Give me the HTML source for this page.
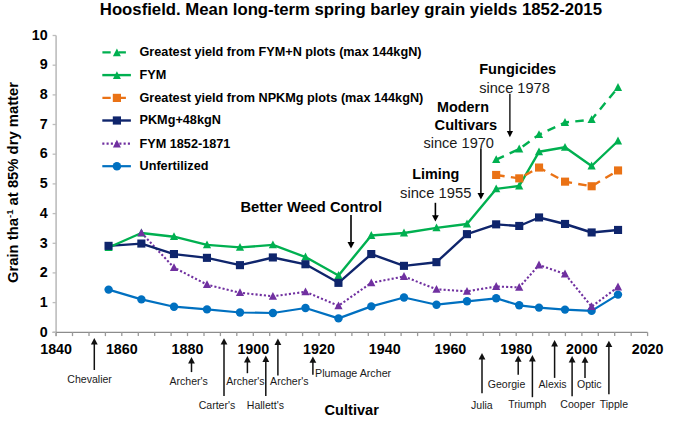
<!DOCTYPE html>
<html><head><meta charset="utf-8"><title>Hoosfield spring barley yields</title>
<style>
html,body{margin:0;padding:0;background:#fff;width:685px;height:421px;overflow:hidden;}
svg{display:block;font-family:"Liberation Sans",sans-serif;}
</style></head><body>
<svg xmlns="http://www.w3.org/2000/svg" width="685" height="421" viewBox="0 0 685 421">
<rect width="685" height="421" fill="#fff"/>
<g stroke="#9a9a9a" stroke-width="1.3" fill="none">
<line x1="56.1" y1="35.5" x2="56.1" y2="336.3" stroke="#bdbdbd" stroke-width="1.6"/>
<line x1="52.6" y1="332.3" x2="647.6" y2="332.3" stroke="#8c8c8c"/>
<line x1="56.1" y1="332.3" x2="56.1" y2="336.1"/>
<line x1="72.5" y1="332.3" x2="72.5" y2="336.1"/>
<line x1="89.0" y1="332.3" x2="89.0" y2="336.1"/>
<line x1="105.4" y1="332.3" x2="105.4" y2="336.1"/>
<line x1="121.8" y1="332.3" x2="121.8" y2="336.1"/>
<line x1="138.3" y1="332.3" x2="138.3" y2="336.1"/>
<line x1="154.7" y1="332.3" x2="154.7" y2="336.1"/>
<line x1="171.1" y1="332.3" x2="171.1" y2="336.1"/>
<line x1="187.5" y1="332.3" x2="187.5" y2="336.1"/>
<line x1="204.0" y1="332.3" x2="204.0" y2="336.1"/>
<line x1="220.4" y1="332.3" x2="220.4" y2="336.1"/>
<line x1="236.8" y1="332.3" x2="236.8" y2="336.1"/>
<line x1="253.3" y1="332.3" x2="253.3" y2="336.1"/>
<line x1="269.7" y1="332.3" x2="269.7" y2="336.1"/>
<line x1="286.1" y1="332.3" x2="286.1" y2="336.1"/>
<line x1="302.6" y1="332.3" x2="302.6" y2="336.1"/>
<line x1="319.0" y1="332.3" x2="319.0" y2="336.1"/>
<line x1="335.4" y1="332.3" x2="335.4" y2="336.1"/>
<line x1="351.9" y1="332.3" x2="351.9" y2="336.1"/>
<line x1="368.3" y1="332.3" x2="368.3" y2="336.1"/>
<line x1="384.7" y1="332.3" x2="384.7" y2="336.1"/>
<line x1="401.1" y1="332.3" x2="401.1" y2="336.1"/>
<line x1="417.6" y1="332.3" x2="417.6" y2="336.1"/>
<line x1="434.0" y1="332.3" x2="434.0" y2="336.1"/>
<line x1="450.4" y1="332.3" x2="450.4" y2="336.1"/>
<line x1="466.9" y1="332.3" x2="466.9" y2="336.1"/>
<line x1="483.3" y1="332.3" x2="483.3" y2="336.1"/>
<line x1="499.7" y1="332.3" x2="499.7" y2="336.1"/>
<line x1="516.2" y1="332.3" x2="516.2" y2="336.1"/>
<line x1="532.6" y1="332.3" x2="532.6" y2="336.1"/>
<line x1="549.0" y1="332.3" x2="549.0" y2="336.1"/>
<line x1="565.4" y1="332.3" x2="565.4" y2="336.1"/>
<line x1="581.9" y1="332.3" x2="581.9" y2="336.1"/>
<line x1="598.3" y1="332.3" x2="598.3" y2="336.1"/>
<line x1="614.7" y1="332.3" x2="614.7" y2="336.1"/>
<line x1="631.2" y1="332.3" x2="631.2" y2="336.1"/>
<line x1="647.6" y1="332.3" x2="647.6" y2="336.1"/>
<line x1="52.6" y1="332.3" x2="56.1" y2="332.3" stroke="#bdbdbd"/>
<line x1="52.6" y1="302.6" x2="56.1" y2="302.6" stroke="#bdbdbd"/>
<line x1="52.6" y1="272.9" x2="56.1" y2="272.9" stroke="#bdbdbd"/>
<line x1="52.6" y1="243.3" x2="56.1" y2="243.3" stroke="#bdbdbd"/>
<line x1="52.6" y1="213.6" x2="56.1" y2="213.6" stroke="#bdbdbd"/>
<line x1="52.6" y1="183.9" x2="56.1" y2="183.9" stroke="#bdbdbd"/>
<line x1="52.6" y1="154.2" x2="56.1" y2="154.2" stroke="#bdbdbd"/>
<line x1="52.6" y1="124.5" x2="56.1" y2="124.5" stroke="#bdbdbd"/>
<line x1="52.6" y1="94.9" x2="56.1" y2="94.9" stroke="#bdbdbd"/>
<line x1="52.6" y1="65.2" x2="56.1" y2="65.2" stroke="#bdbdbd"/>
<line x1="52.6" y1="35.5" x2="56.1" y2="35.5" stroke="#bdbdbd"/>
</g>
<g font-family="Liberation Sans" font-weight="bold" font-size="14.3" fill="#000">
<text x="47.6" y="336.5" text-anchor="end">0</text>
<text x="47.6" y="306.8" text-anchor="end">1</text>
<text x="47.6" y="277.1" text-anchor="end">2</text>
<text x="47.6" y="247.5" text-anchor="end">3</text>
<text x="47.6" y="217.8" text-anchor="end">4</text>
<text x="47.6" y="188.1" text-anchor="end">5</text>
<text x="47.6" y="158.4" text-anchor="end">6</text>
<text x="47.6" y="128.7" text-anchor="end">7</text>
<text x="47.6" y="99.1" text-anchor="end">8</text>
<text x="47.6" y="69.4" text-anchor="end">9</text>
<text x="47.6" y="39.7" text-anchor="end">10</text>
<text x="56.1" y="354" text-anchor="middle">1840</text>
<text x="121.8" y="354" text-anchor="middle">1860</text>
<text x="187.5" y="354" text-anchor="middle">1880</text>
<text x="253.3" y="354" text-anchor="middle">1900</text>
<text x="319.0" y="354" text-anchor="middle">1920</text>
<text x="384.7" y="354" text-anchor="middle">1940</text>
<text x="450.4" y="354" text-anchor="middle">1960</text>
<text x="516.2" y="354" text-anchor="middle">1980</text>
<text x="581.9" y="354" text-anchor="middle">2000</text>
<text x="647.6" y="354" text-anchor="middle">2020</text>
</g>
<polyline points="108.6,289.6 141.4,299.4 174.0,306.7 207.0,309.4 240.0,312.5 272.9,313.0 305.5,308.0 338.5,318.4 371.3,306.4 404.0,297.5 436.5,304.7 467.0,301.3 496.2,298.3 519.2,305.3 539.0,307.6 565.0,309.6 591.6,310.9 618.0,294.6" fill="none" stroke="#0070C0" stroke-width="2.2" stroke-linejoin="round" stroke-linecap="butt"/>
<polyline points="141.4,232.8 174.0,267.6 207.0,284.6 240.0,292.7 272.9,296.3 305.5,291.8 338.5,305.8 371.3,282.8 404.0,276.5 436.5,289.3 467.0,291.3 496.2,286.5 519.2,287.4 539.0,265.0 565.0,274.0 591.6,306.6 618.0,287.0" fill="none" stroke="#7030A0" stroke-width="2.1" stroke-dasharray="2.1 2.1" stroke-linejoin="round" stroke-linecap="butt"/>
<polyline points="108.6,245.9 141.4,243.6 174.0,254.1 207.0,257.9 240.0,265.2 272.9,257.5 305.5,264.3 338.5,282.8 371.3,254.1 404.0,265.9 436.5,262.2 467.0,234.2 496.2,224.4 519.2,226.0 539.0,217.5 565.0,224.0 591.6,232.5 618.0,230.0" fill="none" stroke="#0F256C" stroke-width="2.4" stroke-linejoin="round" stroke-linecap="butt"/>
<polyline points="108.6,247.5 141.4,233.0 174.0,236.7 207.0,244.9 240.0,247.4 272.9,244.9 305.5,257.0 338.5,275.5 371.3,235.5 404.0,233.0 436.5,227.9 467.0,224.0 496.2,188.9 519.2,186.0 539.0,151.8 565.0,147.3 591.6,166.0 618.0,141.0" fill="none" stroke="#00B050" stroke-width="2.4" stroke-linejoin="round" stroke-linecap="butt"/>
<polyline points="496.2,175.0 519.2,178.4 539.0,167.6 565.0,181.7 591.6,186.3 618.0,170.5" fill="none" stroke="#EA7215" stroke-width="2.4" stroke-dasharray="8.5 6.3" stroke-linejoin="round" stroke-linecap="butt"/>
<polyline points="496.2,159.6 519.2,149.0 539.0,134.7 565.0,122.5 591.6,119.6 618.0,87.5" fill="none" stroke="#00B050" stroke-width="2.4" stroke-dasharray="8.5 6.3" stroke-linejoin="round" stroke-linecap="butt"/>
<circle cx="108.6" cy="289.6" r="4.2" fill="#0070C0"/>
<circle cx="141.4" cy="299.4" r="4.2" fill="#0070C0"/>
<circle cx="174.0" cy="306.7" r="4.2" fill="#0070C0"/>
<circle cx="207.0" cy="309.4" r="4.2" fill="#0070C0"/>
<circle cx="240.0" cy="312.5" r="4.2" fill="#0070C0"/>
<circle cx="272.9" cy="313.0" r="4.2" fill="#0070C0"/>
<circle cx="305.5" cy="308.0" r="4.2" fill="#0070C0"/>
<circle cx="338.5" cy="318.4" r="4.2" fill="#0070C0"/>
<circle cx="371.3" cy="306.4" r="4.2" fill="#0070C0"/>
<circle cx="404.0" cy="297.5" r="4.2" fill="#0070C0"/>
<circle cx="436.5" cy="304.7" r="4.2" fill="#0070C0"/>
<circle cx="467.0" cy="301.3" r="4.2" fill="#0070C0"/>
<circle cx="496.2" cy="298.3" r="4.2" fill="#0070C0"/>
<circle cx="519.2" cy="305.3" r="4.2" fill="#0070C0"/>
<circle cx="539.0" cy="307.6" r="4.2" fill="#0070C0"/>
<circle cx="565.0" cy="309.6" r="4.2" fill="#0070C0"/>
<circle cx="591.6" cy="310.9" r="4.2" fill="#0070C0"/>
<circle cx="618.0" cy="294.6" r="4.2" fill="#0070C0"/>
<path d="M108.6 243.1L112.7 250.9L104.5 250.9Z" fill="#00B050"/>
<path d="M141.4 228.6L145.5 236.4L137.3 236.4Z" fill="#00B050"/>
<path d="M174.0 232.3L178.1 240.1L169.9 240.1Z" fill="#00B050"/>
<path d="M207.0 240.5L211.1 248.3L202.9 248.3Z" fill="#00B050"/>
<path d="M240.0 243.0L244.1 250.8L235.9 250.8Z" fill="#00B050"/>
<path d="M272.9 240.5L277.0 248.3L268.8 248.3Z" fill="#00B050"/>
<path d="M305.5 252.6L309.6 260.4L301.4 260.4Z" fill="#00B050"/>
<path d="M338.5 271.1L342.6 278.9L334.4 278.9Z" fill="#00B050"/>
<path d="M371.3 231.1L375.4 238.9L367.2 238.9Z" fill="#00B050"/>
<path d="M404.0 228.6L408.1 236.4L399.9 236.4Z" fill="#00B050"/>
<path d="M436.5 223.5L440.6 231.3L432.4 231.3Z" fill="#00B050"/>
<path d="M467.0 219.6L471.1 227.4L462.9 227.4Z" fill="#00B050"/>
<path d="M496.2 184.5L500.3 192.3L492.1 192.3Z" fill="#00B050"/>
<path d="M519.2 181.6L523.3 189.4L515.1 189.4Z" fill="#00B050"/>
<path d="M539.0 147.4L543.1 155.2L534.9 155.2Z" fill="#00B050"/>
<path d="M565.0 142.9L569.1 150.7L560.9 150.7Z" fill="#00B050"/>
<path d="M591.6 161.6L595.7 169.4L587.5 169.4Z" fill="#00B050"/>
<path d="M618.0 136.6L622.1 144.4L613.9 144.4Z" fill="#00B050"/>
<rect x="104.5" y="241.8" width="8.1" height="8.1" fill="#0F256C"/>
<rect x="137.3" y="239.5" width="8.1" height="8.1" fill="#0F256C"/>
<rect x="169.9" y="250.0" width="8.1" height="8.1" fill="#0F256C"/>
<rect x="202.9" y="253.8" width="8.1" height="8.1" fill="#0F256C"/>
<rect x="235.9" y="261.1" width="8.1" height="8.1" fill="#0F256C"/>
<rect x="268.8" y="253.4" width="8.1" height="8.1" fill="#0F256C"/>
<rect x="301.4" y="260.2" width="8.1" height="8.1" fill="#0F256C"/>
<rect x="334.4" y="278.8" width="8.1" height="8.1" fill="#0F256C"/>
<rect x="367.2" y="250.0" width="8.1" height="8.1" fill="#0F256C"/>
<rect x="399.9" y="261.8" width="8.1" height="8.1" fill="#0F256C"/>
<rect x="432.4" y="258.1" width="8.1" height="8.1" fill="#0F256C"/>
<rect x="462.9" y="230.1" width="8.1" height="8.1" fill="#0F256C"/>
<rect x="492.1" y="220.3" width="8.1" height="8.1" fill="#0F256C"/>
<rect x="515.2" y="221.9" width="8.1" height="8.1" fill="#0F256C"/>
<rect x="535.0" y="213.4" width="8.1" height="8.1" fill="#0F256C"/>
<rect x="561.0" y="219.9" width="8.1" height="8.1" fill="#0F256C"/>
<rect x="587.6" y="228.4" width="8.1" height="8.1" fill="#0F256C"/>
<rect x="614.0" y="225.9" width="8.1" height="8.1" fill="#0F256C"/>
<path d="M141.4 228.4L145.5 236.2L137.3 236.2Z" fill="#7030A0"/>
<path d="M174.0 263.2L178.1 271.0L169.9 271.0Z" fill="#7030A0"/>
<path d="M207.0 280.2L211.1 288.0L202.9 288.0Z" fill="#7030A0"/>
<path d="M240.0 288.3L244.1 296.1L235.9 296.1Z" fill="#7030A0"/>
<path d="M272.9 291.9L277.0 299.7L268.8 299.7Z" fill="#7030A0"/>
<path d="M305.5 287.4L309.6 295.2L301.4 295.2Z" fill="#7030A0"/>
<path d="M338.5 301.4L342.6 309.2L334.4 309.2Z" fill="#7030A0"/>
<path d="M371.3 278.4L375.4 286.2L367.2 286.2Z" fill="#7030A0"/>
<path d="M404.0 272.1L408.1 279.9L399.9 279.9Z" fill="#7030A0"/>
<path d="M436.5 284.9L440.6 292.7L432.4 292.7Z" fill="#7030A0"/>
<path d="M467.0 286.9L471.1 294.7L462.9 294.7Z" fill="#7030A0"/>
<path d="M496.2 282.1L500.3 289.9L492.1 289.9Z" fill="#7030A0"/>
<path d="M519.2 283.0L523.3 290.8L515.1 290.8Z" fill="#7030A0"/>
<path d="M539.0 260.6L543.1 268.4L534.9 268.4Z" fill="#7030A0"/>
<path d="M565.0 269.6L569.1 277.4L560.9 277.4Z" fill="#7030A0"/>
<path d="M591.6 302.2L595.7 310.0L587.5 310.0Z" fill="#7030A0"/>
<path d="M618.0 282.6L622.1 290.4L613.9 290.4Z" fill="#7030A0"/>
<rect x="492.1" y="170.9" width="8.1" height="8.1" fill="#EA7215"/>
<rect x="515.2" y="174.3" width="8.1" height="8.1" fill="#EA7215"/>
<rect x="535.0" y="163.5" width="8.1" height="8.1" fill="#EA7215"/>
<rect x="561.0" y="177.6" width="8.1" height="8.1" fill="#EA7215"/>
<rect x="587.6" y="182.2" width="8.1" height="8.1" fill="#EA7215"/>
<rect x="614.0" y="166.4" width="8.1" height="8.1" fill="#EA7215"/>
<path d="M496.2 155.2L500.3 163.0L492.1 163.0Z" fill="#00B050"/>
<path d="M519.2 144.6L523.3 152.4L515.1 152.4Z" fill="#00B050"/>
<path d="M539.0 130.3L543.1 138.1L534.9 138.1Z" fill="#00B050"/>
<path d="M565.0 118.1L569.1 125.9L560.9 125.9Z" fill="#00B050"/>
<path d="M591.6 115.2L595.7 123.0L587.5 123.0Z" fill="#00B050"/>
<path d="M618.0 83.1L622.1 90.9L613.9 90.9Z" fill="#00B050"/>
<path d="M102.4 52.4H110.7M118.5 52.4H125.9" stroke="#00B050" stroke-width="2.3"/>
<path d="M116.9 48.6L120.9 56.2L112.9 56.2Z" fill="#00B050"/>
<line x1="102.3" y1="75.1" x2="130.9" y2="75.1" stroke="#00B050" stroke-width="2.4"/>
<path d="M116.9 71.3L120.9 78.9L112.9 78.9Z" fill="#00B050"/>
<path d="M102.4 97.9H110.7M118.5 97.9H125.9" stroke="#EA7215" stroke-width="2.3"/>
<rect x="112.8" y="93.8" width="8.2" height="8.2" fill="#EA7215"/>
<line x1="102.3" y1="120.5" x2="130.9" y2="120.5" stroke="#0F256C" stroke-width="2.4"/>
<rect x="112.8" y="116.4" width="8.2" height="8.2" fill="#0F256C"/>
<line x1="102.3" y1="143.6" x2="130.9" y2="143.6" stroke="#7030A0" stroke-width="2.1" stroke-dasharray="2.1 2.16"/>
<path d="M116.9 139.8L120.9 147.4L112.9 147.4Z" fill="#7030A0"/>
<line x1="102.3" y1="166.2" x2="130.9" y2="166.2" stroke="#0070C0" stroke-width="2.2"/>
<circle cx="116.9" cy="166.2" r="4.3" fill="#0070C0"/>
<g font-family="Liberation Sans" font-weight="bold" font-size="12.68" fill="#000">
<text x="139.5" y="56.3">Greatest yield from FYM+N plots (max 144kgN)</text>
<text x="139.5" y="79.0">FYM</text>
<text x="139.5" y="101.8">Greatest yield from NPKMg plots (max 144kgN)</text>
<text x="139.5" y="124.4">PKMg+48kgN</text>
<text x="139.5" y="147.5">FYM 1852-1871</text>
<text x="139.5" y="170.1">Unfertilized</text>
</g>
<text x="99.8" y="14.7" font-family="Liberation Sans" font-weight="bold" font-size="16.74" fill="#000">Hoosfield. Mean long-term spring barley grain yields 1852-2015</text>
<text transform="translate(18.4,283.0) rotate(-90)" font-family="Liberation Sans" font-weight="bold" font-size="14.8" fill="#000">Grain tha<tspan font-size="9.6" dy="-5.5">-1</tspan><tspan dy="5.5"> at 85% dry matter</tspan></text>
<text x="351.7" y="415.2" text-anchor="middle" font-family="Liberation Sans" font-weight="bold" font-size="14.6" fill="#000">Cultivar</text>
<line x1="351.0" y1="215.0" x2="351.0" y2="243.0" stroke="#000" stroke-width="1.6"/>
<path d="M347.5 242.0L354.5 242.0L351.0 248.4Z" fill="#000"/>
<line x1="435.4" y1="202.8" x2="435.4" y2="216.2" stroke="#000" stroke-width="1.6"/>
<path d="M432.0 215.2L438.8 215.2L435.4 221.6Z" fill="#000"/>
<line x1="480.9" y1="148.2" x2="480.9" y2="194.0" stroke="#000" stroke-width="1.5"/>
<path d="M477.5 193.0L484.3 193.0L480.9 199.4Z" fill="#000"/>
<line x1="509.9" y1="93.8" x2="509.9" y2="132.1" stroke="#000" stroke-width="1.3"/>
<path d="M506.8 131.1L513.0 131.1L509.9 137.3Z" fill="#000"/>
<text x="240.4" y="212.3" font-family="Liberation Sans" font-weight="bold" fill="#000" font-size="14.7">Better Weed Control</text>
<text x="412.2" y="179.4" font-family="Liberation Sans" font-weight="bold" fill="#000" font-size="14.4">Liming</text>
<text x="400.0" y="197.6" font-family="Liberation Sans" fill="#1a1a1a" font-size="14.75">since 1955</text>
<text x="437.1" y="111.6" font-family="Liberation Sans" font-weight="bold" fill="#000" font-size="14.35">Modern</text>
<text x="434.6" y="129.5" font-family="Liberation Sans" font-weight="bold" fill="#000" font-size="14.6">Cultivars</text>
<text x="423.4" y="148.1" font-family="Liberation Sans" fill="#1a1a1a" font-size="14.6">since 1970</text>
<text x="479.2" y="74.0" font-family="Liberation Sans" font-weight="bold" fill="#000" font-size="14.6">Fungicides</text>
<text x="479.2" y="92.9" font-family="Liberation Sans" fill="#1a1a1a" font-size="14.6">since 1978</text>
<line x1="94.3" y1="343.4" x2="94.3" y2="370.0" stroke="#111" stroke-width="1.5"/>
<path d="M90.9 344.4L97.7 344.4L94.3 338.0Z" fill="#111"/>
<line x1="191.5" y1="362.4" x2="191.5" y2="372.1" stroke="#111" stroke-width="1.5"/>
<path d="M188.1 363.4L194.9 363.4L191.5 357.0Z" fill="#111"/>
<line x1="224.0" y1="343.6" x2="224.0" y2="395.9" stroke="#111" stroke-width="1.5"/>
<path d="M220.6 344.6L227.4 344.6L224.0 338.2Z" fill="#111"/>
<line x1="247.4" y1="361.4" x2="247.4" y2="373.2" stroke="#111" stroke-width="1.5"/>
<path d="M244.0 362.4L250.8 362.4L247.4 356.0Z" fill="#111"/>
<line x1="265.8" y1="360.9" x2="265.8" y2="395.9" stroke="#111" stroke-width="1.5"/>
<path d="M262.4 361.9L269.2 361.9L265.8 355.5Z" fill="#111"/>
<line x1="277.9" y1="344.0" x2="277.9" y2="375.4" stroke="#111" stroke-width="1.5"/>
<path d="M274.5 345.0L281.3 345.0L277.9 338.6Z" fill="#111"/>
<line x1="312.9" y1="361.8" x2="312.9" y2="374.8" stroke="#111" stroke-width="1.5"/>
<path d="M309.5 362.8L316.3 362.8L312.9 356.4Z" fill="#111"/>
<line x1="482.0" y1="358.4" x2="482.0" y2="393.2" stroke="#111" stroke-width="1.5"/>
<path d="M478.6 359.4L485.4 359.4L482.0 353.0Z" fill="#111"/>
<line x1="518.2" y1="360.8" x2="518.2" y2="374.8" stroke="#111" stroke-width="1.5"/>
<path d="M514.8 361.8L521.6 361.8L518.2 355.4Z" fill="#111"/>
<line x1="532.4" y1="360.4" x2="532.4" y2="397.2" stroke="#111" stroke-width="1.5"/>
<path d="M529.0 361.4L535.8 361.4L532.4 355.0Z" fill="#111"/>
<line x1="554.6" y1="345.5" x2="554.6" y2="377.9" stroke="#111" stroke-width="1.5"/>
<path d="M551.2 346.5L558.0 346.5L554.6 340.1Z" fill="#111"/>
<line x1="572.1" y1="361.4" x2="572.1" y2="396.2" stroke="#111" stroke-width="1.5"/>
<path d="M568.7 362.4L575.5 362.4L572.1 356.0Z" fill="#111"/>
<line x1="585.0" y1="361.8" x2="585.0" y2="377.9" stroke="#111" stroke-width="1.5"/>
<path d="M581.6 362.8L588.4 362.8L585.0 356.4Z" fill="#111"/>
<line x1="608.9" y1="346.1" x2="608.9" y2="394.2" stroke="#111" stroke-width="1.5"/>
<path d="M605.5 347.1L612.3 347.1L608.9 340.7Z" fill="#111"/>
<g font-family="Liberation Sans" fill="#1a1a1a" font-size="10.55">
<text x="67.3" y="382.8">Chevalier</text>
<text x="169.5" y="385.4">Archer&#39;s</text>
<text x="198.7" y="409.0">Carter&#39;s</text>
<text x="226.3" y="385.4">Archer&#39;s</text>
<text x="246.8" y="408.8">Hallett&#39;s</text>
<text x="270.1" y="385.4">Archer&#39;s</text>
<text x="315.1" y="377.2" font-size="10.7">Plumage Archer</text>
<text x="471.0" y="408.8">Julia</text>
<text x="487.8" y="388.1">Georgie</text>
<text x="508.2" y="408.3">Triumph</text>
<text x="538.5" y="388.1">Alexis</text>
<text x="560.3" y="408.0">Cooper</text>
<text x="577.0" y="388.1">Optic</text>
<text x="599.7" y="408.0">Tipple</text>
</g>
</svg>
</body></html>
